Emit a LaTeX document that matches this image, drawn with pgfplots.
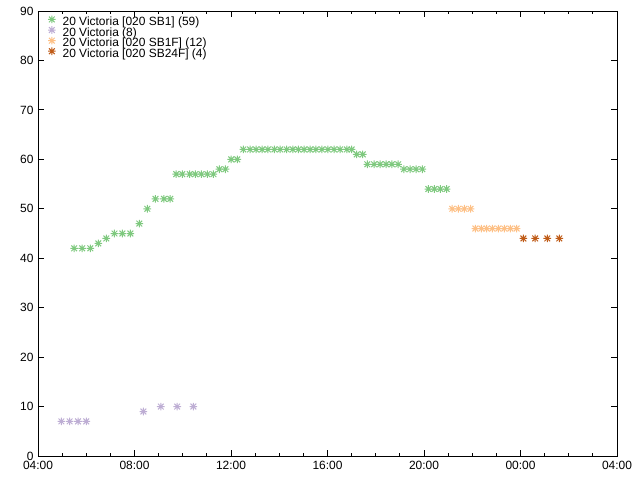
\documentclass[border=0pt]{standalone}
\usepackage{fontspec}
\setmainfont{Liberation Sans}
\usepackage{pgfplots}
\pgfplotsset{compat=1.18}

\definecolor{sgreen}{HTML}{7FC97F}
\definecolor{spurple}{HTML}{BEAED4}
\definecolor{sorange}{HTML}{FDC086}
\definecolor{sbrown}{HTML}{BF5B17}

% gnuplot style asterisk: plus and cross together
\pgfdeclareplotmark{gpstar}{%
  \pgfpathmoveto{\pgfqpoint{-\pgfplotmarksize}{0pt}}%
  \pgfpathlineto{\pgfqpoint{\pgfplotmarksize}{0pt}}%
  \pgfpathmoveto{\pgfqpoint{0pt}{-\pgfplotmarksize}}%
  \pgfpathlineto{\pgfqpoint{0pt}{\pgfplotmarksize}}%
  \pgfpathmoveto{\pgfqpoint{-0.75\pgfplotmarksize}{-0.75\pgfplotmarksize}}%
  \pgfpathlineto{\pgfqpoint{0.75\pgfplotmarksize}{0.75\pgfplotmarksize}}%
  \pgfpathmoveto{\pgfqpoint{-0.75\pgfplotmarksize}{0.75\pgfplotmarksize}}%
  \pgfpathlineto{\pgfqpoint{0.75\pgfplotmarksize}{-0.75\pgfplotmarksize}}%
  \pgfusepathqstroke}

\begin{document}
\begin{tikzpicture}
\useasboundingbox (-38bp,-24bp) rectangle (602bp,456bp);
\begin{axis}[
  at={(0,0)}, anchor=south west,
  scale only axis,
  width=579bp, height=445bp,
  xmin=4, xmax=28, ymin=0, ymax=90,
  xtick={4,8,12,16,20,24,28},
  xticklabels={04:00,08:00,12:00,16:00,20:00,00:00,04:00},
  minor x tick num=3,
  ytick={0,10,...,90},
  tick align=inside,
  major tick length=6bp, minor tick length=3bp,
  axis line style={line width=0.9bp},
  every tick/.style={black, line width=0.9bp},
  ticklabel style={font=\fontsize{12}{13}\selectfont},
  /pgf/number format/assume math mode=true,
  xticklabel style={yshift=-1.5bp},
  yticklabel style={xshift=-1bp},
  legend cell align=left,
  legend style={at={(axis description cs:0.017,0.990)}, anchor=north west,
    draw=none, fill=none, font=\fontsize{12}{13}\selectfont,
    inner sep=0pt, row sep=-1.7bp,
    nodes={inner ysep=0pt, inner xsep=1bp, text height=8.5bp, text depth=2.5bp},
    /tikz/every odd column/.append style={column sep=6bp}},
  legend image code/.code={\draw[#1] plot coordinates {(5bp,3bp)};},
  every axis plot/.append style={only marks, mark=gpstar, mark size=3.8bp, line width=1bp},
]

% 20 Victoria [020 SB1]
\addplot[sgreen] coordinates {
  (5.50,42) (5.83,42) (6.17,42) (6.50,43) (6.83,44)
  (7.17,45) (7.50,45) (7.83,45) (8.20,47) (8.53,50)
  (8.87,52) (9.22,52) (9.48,52)
  (9.73,57) (9.98,57) (10.29,57) (10.52,57) (10.77,57) (11.02,57) (11.27,57)
  (11.52,58) (11.77,58) (12.01,60) (12.26,60)
  (12.51,62) (12.79,62) (13.04,62) (13.29,62) (13.53,62) (13.80,62) (14.04,62)
  (14.31,62) (14.56,62) (14.79,62) (15.03,62) (15.28,62) (15.52,62) (15.77,62)
  (16.02,62) (16.27,62) (16.52,62) (16.80,62) (17.00,62)
  (17.21,61) (17.46,61)
  (17.65,59) (17.93,59) (18.18,59) (18.43,59) (18.67,59) (18.93,59)
  (19.17,58) (19.42,58) (19.67,58) (19.93,58)
  (20.18,54) (20.43,54) (20.68,54) (20.94,54)
};

% 20 Victoria
\addplot[spurple] coordinates {
  (4.97,7) (5.31,7) (5.66,7) (6.00,7)
  (8.37,9) (9.09,10) (9.77,10) (10.44,10)
};

% 20 Victoria [020 SB1F]
\addplot[sorange] coordinates {
  (21.17,50) (21.42,50) (21.67,50) (21.93,50)
  (22.13,46) (22.38,46) (22.60,46) (22.83,46)
  (23.08,46) (23.33,46) (23.58,46) (23.84,46)
};

% 20 Victoria [020 SB24F]
\addplot[sbrown] coordinates {
  (24.12,44) (24.61,44) (25.11,44) (25.61,44)
};

\legend{20 Victoria [020 SB1] (59), 20 Victoria (8), 20 Victoria [020 SB1F] (12), 20 Victoria [020 SB24F] (4)}
\end{axis}
\end{tikzpicture}
\end{document}
